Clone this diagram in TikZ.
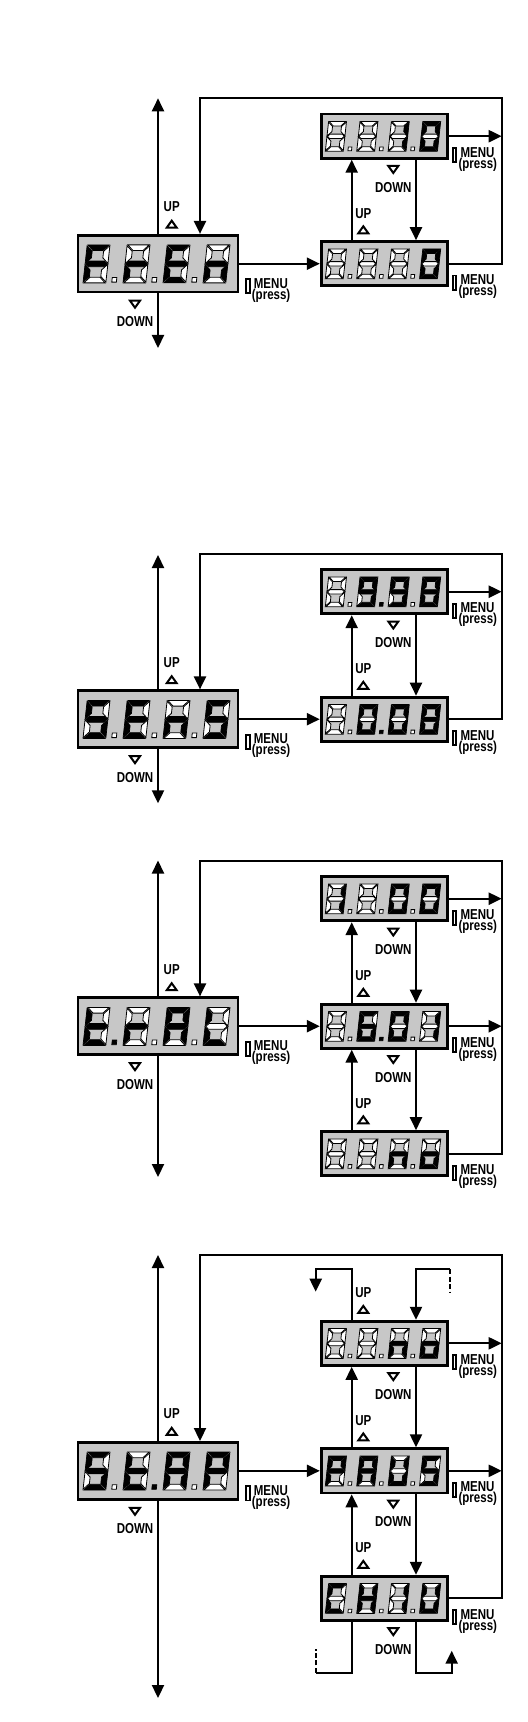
\documentclass[tikz,border=0pt]{standalone}
\usepackage{fontspec}
\setmainfont{Liberation Sans}
\usetikzlibrary{arrows.meta}

% narrow bold labels
\newcommand\lbl[1]{\scalebox{0.8}[1]{#1}}
% one segment: 1 = lit, 0 = dark, 2 = absent
\newcommand\sg[2]{\ifnum#1=1 \filldraw[fill=black, draw=black, line width=0.35pt] #2;\else\ifnum#1=0 \filldraw[fill=white, draw=black, line width=0.4pt] #2;\fi\fi}
% segments a b c d e f g and the point
\def\digitsegs#1#2#3#4#5#6#7#8\relax{%
  \sg{#1}{(0.2,10) -- (5.8,10) -- (4.3,8.5) -- (1.7,8.5) -- cycle}%
  \sg{#2}{(6,9.8) -- (4.5,8.3) -- (4.5,6.6) -- (6,5.1) -- cycle}%
  \sg{#3}{(6,4.9) -- (4.5,3.4) -- (4.5,1.7) -- (6,0.2) -- cycle}%
  \sg{#4}{(0.2,0) -- (1.7,1.5) -- (4.3,1.5) -- (5.8,0) -- cycle}%
  \sg{#5}{(0,4.9) -- (1.5,3.4) -- (1.5,1.7) -- (0,0.2) -- cycle}%
  \sg{#6}{(0,9.8) -- (1.5,8.3) -- (1.5,6.6) -- (0,5.1) -- cycle}%
  \sg{#7}{(0.2,5) -- (0.95,5.75) -- (5.05,5.75) -- (5.8,5) -- (5.05,4.25) -- (0.95,4.25) -- cycle}%
  \sg{#8}{(7.55,0.2) -- (8.75,0.2) -- (8.75,1.4) -- (7.55,1.4) -- cycle}}
% four digits in a display: centre x, centre y, size, codes
\newcommand\readout[4]{%
  \foreach \cd [count=\i] in {#4} {
    \begin{scope}[shift={(#1-75*#3+\i*40*#3-40*#3, #2+19.2*#3)},
        x={(1.9pt*#3,0pt)}, y={(0.209pt*#3,1.9pt*#3)}]
      \expandafter\digitsegs\cd\relax
    \end{scope}}}

\begin{document}
\begin{tikzpicture}[x=0.5pt, y=-0.5pt,
    disp/.style={draw, line width=1.4pt, fill=black!22, inner sep=0pt, minimum width=80pt, minimum height=28.4pt},
    dispsm/.style={disp, minimum width=63pt, minimum height=22.1pt},
    conn/.style={line width=1.1pt},
    arr/.style={conn, -{Triangle[length=6.5pt,width=6pt]}},
    txt/.style={font=\fontsize{7.2}{7.2}\selectfont\bfseries, inner sep=0pt},
    uptri/.pic={\draw[line width=1pt] (-5,3.6) -- (5,3.6) -- (0,-3.4) -- cycle;},
    dntri/.pic={\draw[line width=1pt] (-5,-3.6) -- (5,-3.6) -- (0,3.4) -- cycle;},
    menu/.pic={
      \draw[line width=0.9pt] (0.9,0.9) rectangle (4.6,15);
      \node[txt, anchor=base west] at (8.5,10) {\lbl{MENU}};
      \node[txt, anchor=base west] at (6.5,21) {\lbl{(press)}};
    }]

    \useasboundingbox (0,0) rectangle (528,1722);

    % Columns
    \coordinate (cu) at (351.7,0);
    \coordinate (cd) at (416,0);
    \coordinate (cr) at (501.7,0);

    % ---------- FrEn ----------
    \node[disp] (fren) at (158,263.7) {};
    \node[dispsm] (frenhi) at (384.2,136.2) {};
    \node[dispsm] (frenlo) at (384.2,263.7) {};
    \readout{158}{263.7}{1}{10001110,00001010,10011110,00101012}
    \readout{384.2}{136.2}{0.785}{00000000,00000000,01100000,11111102}
    \readout{384.2}{263.7}{0.785}{00000000,00000000,00000000,11111102}

    \coordinate (frentop) at (158,98.3);
    \coordinate (frenbot) at (158,348);
    \coordinate (frenR) at (501.7,98.3);
    \coordinate (frenL) at (200,98.3);
    \draw[arr] (fren.north) -- (frentop);
    \draw[arr] (fren.south) -- (frenbot);
    \draw[arr] (fren.east) -- (frenlo.west);
    \draw[arr] (frenlo.north -| cu) -- (frenhi.south -| cu);
    \draw[arr] (frenhi.south -| cd) -- (frenlo.north -| cd);
    \draw[arr] (frenhi.east) -- (frenhi.east -| cr);
    \draw[arr] (frenlo.east) -| (frenR) -- (frenL) -- (fren.north -| frenL);

    \pic at (171.7,224.1) {uptri};
    \node[txt] (frenup) at (171.7,206.7) {\lbl{UP}};
    \pic at (135,304.3) {dntri};
    \node[txt] (frendn) at (135,321.7) {\lbl{DOWN}};
    \pic at (245,278.3) {menu};
    \pic at (393.3,169.6) {dntri};
    \node[txt] (frenhidn) at (393.3,187.2) {\lbl{DOWN}};
    \pic at (451.7,147.2) {menu};
    \pic at (363.3,229.7) {uptri};
    \node[txt] (frenloup) at (363.3,213.2) {\lbl{UP}};
    \pic at (451.7,274.7) {menu};

    % ---------- SEnS ----------
    \node[disp] (sens) at (158,719.2) {};
    \node[dispsm] (senshi) at (384.2,591.7) {};
    \node[dispsm] (senslo) at (384.2,719.2) {};
    \readout{158}{719.2}{1}{10110110,10011110,00101010,10110112}
    \readout{384.2}{591.7}{0.785}{00000000,11110111,11110110,11111112}
    \readout{384.2}{719.2}{0.785}{00000000,11111101,11111100,11111112}

    \coordinate (senstop) at (158,555);
    \coordinate (sensbot) at (158,803.3);
    \coordinate (sensR) at (501.7,553.8);
    \coordinate (sensL) at (200,553.8);
    \draw[arr] (sens.north) -- (senstop);
    \draw[arr] (sens.south) -- (sensbot);
    \draw[arr] (sens.east) -- (senslo.west);
    \draw[arr] (senslo.north -| cu) -- (senshi.south -| cu);
    \draw[arr] (senshi.south -| cd) -- (senslo.north -| cd);
    \draw[arr] (senshi.east) -- (senshi.east -| cr);
    \draw[arr] (senslo.east) -| (sensR) -- (sensL) -- (sens.north -| sensL);

    \pic at (171.7,679.6) {uptri};
    \node[txt] (sensup) at (171.7,662.2) {\lbl{UP}};
    \pic at (135,759.8) {dntri};
    \node[txt] (sensdn) at (135,777.2) {\lbl{DOWN}};
    \pic at (245,733.8) {menu};
    \pic at (393.3,625.1) {dntri};
    \node[txt] (senshidn) at (393.3,642.7) {\lbl{DOWN}};
    \pic at (451.7,602.7) {menu};
    \pic at (363.3,685.2) {uptri};
    \node[txt] (sensloup) at (363.3,668.7) {\lbl{UP}};
    \pic at (451.7,730.2) {menu};

    % ---------- trAL ----------
    \node[disp] (tral) at (158,1026.2) {};
    \node[dispsm] (tralhi) at (384.2,898.7) {};
    \node[dispsm] (tralmid) at (384.2,1026.2) {};
    \node[dispsm] (tralno) at (384.2,1153.7) {};
    \readout{158}{1026.2}{1}{00011111,00001010,11101110,00011102}
    \readout{384.2}{898.7}{0.785}{01100000,00000000,11111100,11111102}
    \readout{384.2}{1026.2}{0.785}{00000000,10111111,11111100,01100002}
    \readout{384.2}{1153.7}{0.785}{00000000,00000000,00101010,00111012}

    \coordinate (traltop) at (158,860.5);
    \coordinate (tralbot) at (158,1177);
    \coordinate (tralR) at (501.7,860.7);
    \coordinate (tralL) at (200,860.7);
    \draw[arr] (tral.north) -- (traltop);
    \draw[arr] (tral.south) -- (tralbot);
    \draw[arr] (tral.east) -- (tralmid.west);
    \draw[arr] (tralmid.north -| cu) -- (tralhi.south -| cu);
    \draw[arr] (tralhi.south -| cd) -- (tralmid.north -| cd);
    \draw[arr] (tralno.north -| cu) -- (tralmid.south -| cu);
    \draw[arr] (tralmid.south -| cd) -- (tralno.north -| cd);
    \draw[arr] (tralhi.east) -- (tralhi.east -| cr);
    \draw[arr] (tralmid.east) -- (tralmid.east -| cr);
    \draw[arr] (tralno.east) -| (tralR) -- (tralL) -- (tral.north -| tralL);

    \pic at (171.7,986.6) {uptri};
    \node[txt] (tralup) at (171.7,969.2) {\lbl{UP}};
    \pic at (135,1066.8) {dntri};
    \node[txt] (traldn) at (135,1084.2) {\lbl{DOWN}};
    \pic at (245,1040.8) {menu};
    \pic at (393.3,932.1) {dntri};
    \node[txt] (tralhidn) at (393.3,949.7) {\lbl{DOWN}};
    \pic at (451.7,909.7) {menu};
    \pic at (363.3,992.2) {uptri};
    \node[txt] (tralmidup) at (363.3,975.7) {\lbl{UP}};
    \pic at (393.3,1059.6) {dntri};
    \node[txt] (tralmiddn) at (393.3,1077.2) {\lbl{DOWN}};
    \pic at (451.7,1037.2) {menu};
    \pic at (363.3,1119.7) {uptri};
    \node[txt] (tralnoup) at (363.3,1103.2) {\lbl{UP}};
    \pic at (451.7,1164.7) {menu};

    % ---------- StAP ----------
    \node[disp] (stap) at (158,1470.8) {};
    \node[dispsm] (stapno) at (384.2,1343.3) {};
    \node[dispsm] (stappaus) at (384.2,1470.8) {};
    \node[dispsm] (stapchiu) at (384.2,1598.3) {};
    \readout{158}{1470.8}{1}{10110110,00011111,11101110,11001112}
    \readout{384.2}{1343.3}{0.785}{00000000,00000000,00101010,00111012}
    \readout{384.2}{1470.8}{0.785}{11001110,11101110,01111100,10110112}
    \readout{384.2}{1598.3}{0.785}{10011100,01101110,01100000,01111102}

    \coordinate (staptop) at (158,1255);
    \coordinate (stapbot) at (158,1698);
    \coordinate (stapR) at (501.7,1255);
    \coordinate (stapL) at (200,1255);
    \draw[arr] (stap.north) -- (staptop);
    \draw[arr] (stap.south) -- (stapbot);
    \draw[arr] (stap.east) -- (stappaus.west);
    \draw[arr] (stappaus.north -| cu) -- (stapno.south -| cu);
    \draw[arr] (stapno.south -| cd) -- (stappaus.north -| cd);
    \draw[arr] (stapchiu.north -| cu) -- (stappaus.south -| cu);
    \draw[arr] (stappaus.south -| cd) -- (stapchiu.north -| cd);
    \draw[arr] (stapno.east) -- (stapno.east -| cr);
    \draw[arr] (stappaus.east) -- (stappaus.east -| cr);
    \draw[arr] (stapchiu.east) -| (stapR) -- (stapL) -- (stap.north -| stapL);

    % wrap round
    \coordinate (wrapA) at (315.7,1269.3);
    \coordinate (wrapAend) at (315.7,1291.7);
    \coordinate (wrapB) at (450,1269.3);
    \coordinate (wrapBend) at (450,1291.7);
    \coordinate (wrapC) at (315.7,1672.7);
    \coordinate (wrapCend) at (315.7,1649.3);
    \coordinate (wrapD) at (451.7,1672.7);
    \coordinate (wrapDend) at (451.7,1650.7);
    \draw[arr] (stapno.north -| cu) |- (wrapA) -- (wrapAend);
    \draw[arr] (wrapB) -| (stapno.north -| cd);
    \draw[conn, dash pattern=on 2.5pt off 1.2pt] (wrapB) -- (wrapBend);
    \draw[conn] (stapchiu.south -| cu) |- (wrapC);
    \draw[conn, dash pattern=on 2.5pt off 1.2pt] (wrapC) -- (wrapCend);
    \draw[arr] (stapchiu.south -| cd) |- (wrapD) -- (wrapDend);

    \pic at (171.7,1431.2) {uptri};
    \node[txt] (stapup) at (171.7,1413.8) {\lbl{UP}};
    \pic at (135,1511.4) {dntri};
    \node[txt] (stapdn) at (135,1528.8) {\lbl{DOWN}};
    \pic at (245,1485.4) {menu};
    \pic at (363.3,1309.3) {uptri};
    \node[txt] (stapnoup) at (363.3,1292.8) {\lbl{UP}};
    \pic at (393.3,1376.7) {dntri};
    \node[txt] (stapnodn) at (393.3,1394.3) {\lbl{DOWN}};
    \pic at (451.7,1354.3) {menu};
    \pic at (363.3,1436.8) {uptri};
    \node[txt] (stappausup) at (363.3,1420.3) {\lbl{UP}};
    \pic at (393.3,1504.2) {dntri};
    \node[txt] (stappausdn) at (393.3,1521.8) {\lbl{DOWN}};
    \pic at (451.7,1481.8) {menu};
    \pic at (363.3,1564.3) {uptri};
    \node[txt] (stapchiuup) at (363.3,1547.8) {\lbl{UP}};
    \pic at (393.3,1631.7) {dntri};
    \node[txt] (stapchiudn) at (393.3,1649.3) {\lbl{DOWN}};
    \pic at (451.7,1609.3) {menu};

\end{tikzpicture}
\end{document}
